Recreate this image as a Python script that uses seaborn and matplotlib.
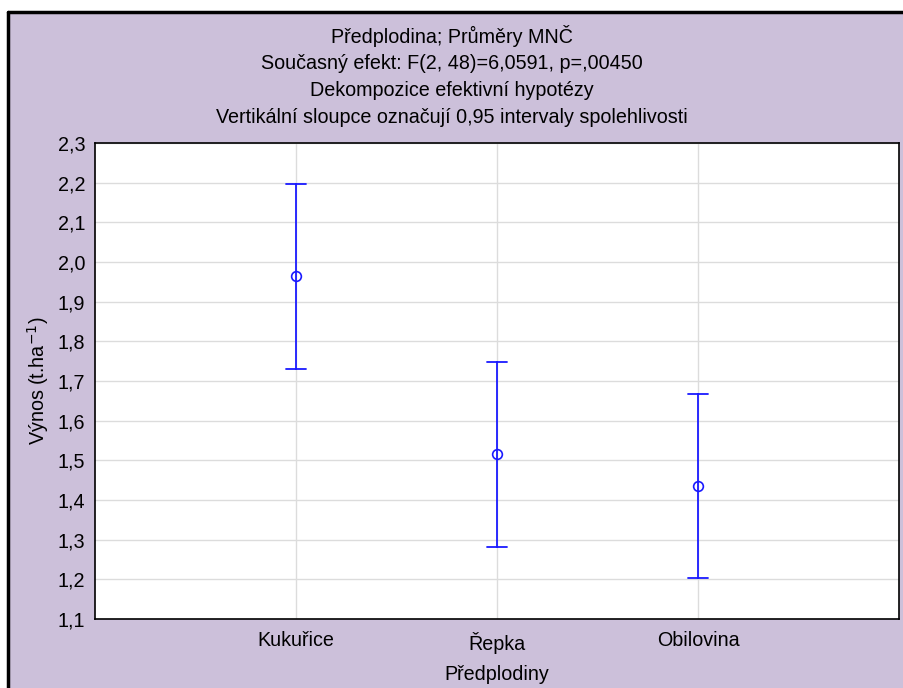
import matplotlib
matplotlib.use("Agg")
import matplotlib.pyplot as plt
import seaborn as sns
import pandas as pd
from matplotlib.patches import Rectangle

categories = ["Kukuřice", "Řepka", "Obilovina"]
means = [1.965, 1.516, 1.435]
lower = [1.731, 1.282, 1.203]
upper = [2.197, 1.748, 1.666]

title_lines = [
    "Předplodina; Průměry MNČ",
    "Současný efekt: F(2, 48)=6,0591, p=,00450",
    "Dekompozice efektivní hypotézy",
    "Vertikální sloupce označují 0,95 intervaly spolehlivosti",
]

# long table: lower / mean / upper per category, median -> mean, min/max -> CI
rows = []
for c, lo, m, hi in zip(categories, lower, means, upper):
    for v in (lo, m, hi):
        rows.append({"cat": c, "val": v})
df = pd.DataFrame(rows)

sns.set_style("white")
plt.rcParams["font.family"] = ["Liberation Sans", "DejaVu Sans"]
fs = 14.2
plt.rcParams["font.size"] = fs
plt.rcParams["text.color"] = "black"
plt.rcParams["axes.labelcolor"] = "black"
plt.rcParams["xtick.color"] = "black"
plt.rcParams["ytick.color"] = "black"

W, H = 904, 688
fig = plt.figure(figsize=(W / 100, H / 100), dpi=100)
fig.patch.set_facecolor("white")
bg = "#ccc0da"
fig.patches.append(Rectangle((8 / W, 0), 1, 1 - 12 / H, transform=fig.transFigure,
                             facecolor=bg, edgecolor="none", zorder=-10))
fig.add_artist(plt.Line2D([8 / W, 8 / W], [0, 1 - 12 / H], color="black", lw=2.5,
                          transform=fig.transFigure))
fig.add_artist(plt.Line2D([8 / W, 1], [1 - 12 / H, 1 - 12 / H], color="black", lw=2.5,
                          transform=fig.transFigure))

ax = fig.add_axes([95 / W, 1 - 619 / H, (899 - 95) / W, (619 - 143) / H])
ax.set_facecolor("white")

sns.pointplot(data=df, x="cat", y="val", order=categories, estimator="median",
              errorbar=lambda v: (v.min(), v.max()), color="#1a1aff",
              markers="o", linestyles="none", capsize=0.1,
              err_kws={"linewidth": 1.3}, ax=ax,
              markerfacecolor="none", markeredgewidth=1.2, markersize=7)

ax.set_xlim(-1, 3)
ax.set_ylim(1.1, 2.3)
yt = [1.1 + 0.1 * i for i in range(13)]
ax.set_yticks(yt)
ax.set_yticklabels([f"{t:.1f}".replace(".", ",") for t in yt])
ax.grid(True, color="#dcdcdc", linewidth=1)
ax.set_axisbelow(True)
ax.tick_params(direction="in", length=4, color="#333333", labelsize=fs, pad=7)
ax.tick_params(axis="x", pad=9)
for s in ax.spines.values():
    s.set_color("black")
    s.set_linewidth(1.2)

ax.set_xlabel("Předplodiny", labelpad=8)
ax.set_ylabel("Výnos (t.ha$^{-1}$)", labelpad=5)

y0 = 1 - 36 / H
for i, line in enumerate(title_lines):
    fig.text(0.5, y0 - i * 27.2 / H, line, ha="center", va="center", fontsize=fs)

fig.savefig("out.png", dpi=100, facecolor=fig.get_facecolor())
